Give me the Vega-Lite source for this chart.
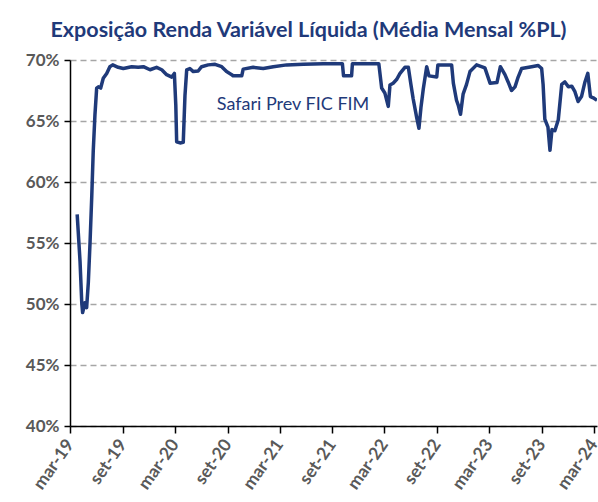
{
  "$schema": "https://vega.github.io/schema/vega-lite/v6.json",
  "width": 527,
  "height": 366,
  "autosize": {"type": "none"},
  "padding": {"left": 70, "top": 60, "right": 1, "bottom": 76},
  "background": "white",
  "title": {
    "text": "Exposição Renda Variável Líquida (Média Mensal %PL)",
    "font": "Lato",
    "fontSize": 21.5,
    "fontWeight": "bold",
    "color": "#1f3a7a",
    "anchor": "middle",
    "dx": -25,
    "offset": 10
  },
  "config": {"view": {"stroke": null}, "font": "Lato"},
  "layer": [
    {
      "data": {
        "values": [
          {"date": "2019-03-26", "value": 57.35},
          {"date": "2019-04-05", "value": 53.5},
          {"date": "2019-04-11", "value": 50.1},
          {"date": "2019-04-14", "value": 49.3},
          {"date": "2019-04-22", "value": 50.1},
          {"date": "2019-04-28", "value": 49.7},
          {"date": "2019-05-04", "value": 51.8},
          {"date": "2019-05-10", "value": 55.1},
          {"date": "2019-05-16", "value": 58.9},
          {"date": "2019-05-21", "value": 62.5},
          {"date": "2019-05-27", "value": 65.5},
          {"date": "2019-06-02", "value": 67.7},
          {"date": "2019-06-08", "value": 67.8},
          {"date": "2019-06-16", "value": 67.7},
          {"date": "2019-06-25", "value": 68.5},
          {"date": "2019-07-07", "value": 68.9},
          {"date": "2019-07-18", "value": 69.45},
          {"date": "2019-07-28", "value": 69.6},
          {"date": "2019-08-16", "value": 69.4},
          {"date": "2019-09-03", "value": 69.3},
          {"date": "2019-10-02", "value": 69.45},
          {"date": "2019-10-25", "value": 69.4},
          {"date": "2019-11-12", "value": 69.45},
          {"date": "2019-12-05", "value": 69.2},
          {"date": "2019-12-28", "value": 69.4},
          {"date": "2020-01-15", "value": 69.2},
          {"date": "2020-02-01", "value": 68.8},
          {"date": "2020-02-19", "value": 68.6},
          {"date": "2020-02-28", "value": 68.9},
          {"date": "2020-03-04", "value": 66.3},
          {"date": "2020-03-07", "value": 63.3},
          {"date": "2020-03-19", "value": 63.2},
          {"date": "2020-03-30", "value": 63.25},
          {"date": "2020-04-05", "value": 67.1},
          {"date": "2020-04-11", "value": 69.2},
          {"date": "2020-04-22", "value": 69.3},
          {"date": "2020-05-04", "value": 69.05},
          {"date": "2020-05-21", "value": 69.1},
          {"date": "2020-06-02", "value": 69.45},
          {"date": "2020-06-25", "value": 69.6},
          {"date": "2020-07-19", "value": 69.65},
          {"date": "2020-08-11", "value": 69.45},
          {"date": "2020-08-28", "value": 69.05},
          {"date": "2020-09-15", "value": 68.8},
          {"date": "2020-09-20", "value": 68.7},
          {"date": "2020-10-20", "value": 68.7},
          {"date": "2020-10-25", "value": 69.25},
          {"date": "2020-11-29", "value": 69.4},
          {"date": "2021-01-03", "value": 69.3},
          {"date": "2021-02-07", "value": 69.45},
          {"date": "2021-03-26", "value": 69.6},
          {"date": "2021-05-23", "value": 69.65},
          {"date": "2021-07-31", "value": 69.7},
          {"date": "2021-10-06", "value": 69.7},
          {"date": "2021-10-10", "value": 68.7},
          {"date": "2021-11-07", "value": 68.7},
          {"date": "2021-11-10", "value": 69.7},
          {"date": "2022-02-10", "value": 69.7},
          {"date": "2022-02-20", "value": 67.7},
          {"date": "2022-03-03", "value": 67.3},
          {"date": "2022-03-15", "value": 66.2},
          {"date": "2022-03-21", "value": 67.95},
          {"date": "2022-04-01", "value": 68.1},
          {"date": "2022-04-13", "value": 68.4},
          {"date": "2022-04-25", "value": 68.9},
          {"date": "2022-05-12", "value": 69.4},
          {"date": "2022-05-24", "value": 69.4},
          {"date": "2022-06-02", "value": 68.0},
          {"date": "2022-06-10", "value": 66.8},
          {"date": "2022-06-22", "value": 65.3},
          {"date": "2022-06-30", "value": 64.4},
          {"date": "2022-07-07", "value": 66.1},
          {"date": "2022-07-15", "value": 67.6},
          {"date": "2022-07-27", "value": 69.45},
          {"date": "2022-08-04", "value": 68.7},
          {"date": "2022-08-31", "value": 68.6},
          {"date": "2022-09-04", "value": 69.6},
          {"date": "2022-10-22", "value": 69.6},
          {"date": "2022-10-28", "value": 68.1},
          {"date": "2022-11-08", "value": 66.7},
          {"date": "2022-11-14", "value": 66.3},
          {"date": "2022-11-22", "value": 65.55},
          {"date": "2022-12-01", "value": 67.2},
          {"date": "2022-12-13", "value": 68.0},
          {"date": "2022-12-25", "value": 69.05},
          {"date": "2023-01-17", "value": 69.6},
          {"date": "2023-02-15", "value": 69.35},
          {"date": "2023-03-05", "value": 68.1},
          {"date": "2023-03-29", "value": 68.15},
          {"date": "2023-04-10", "value": 69.45},
          {"date": "2023-04-26", "value": 68.8},
          {"date": "2023-05-07", "value": 68.2},
          {"date": "2023-05-19", "value": 67.5},
          {"date": "2023-05-31", "value": 67.8},
          {"date": "2023-06-11", "value": 68.6},
          {"date": "2023-06-23", "value": 69.3},
          {"date": "2023-07-28", "value": 69.45},
          {"date": "2023-08-20", "value": 69.55},
          {"date": "2023-09-01", "value": 69.3},
          {"date": "2023-09-06", "value": 68.0},
          {"date": "2023-09-12", "value": 65.15},
          {"date": "2023-09-23", "value": 64.5},
          {"date": "2023-09-30", "value": 62.6},
          {"date": "2023-10-07", "value": 64.3},
          {"date": "2023-10-17", "value": 64.2},
          {"date": "2023-10-29", "value": 65.1},
          {"date": "2023-11-10", "value": 68.0},
          {"date": "2023-11-21", "value": 68.2},
          {"date": "2023-12-03", "value": 67.8},
          {"date": "2023-12-15", "value": 67.85},
          {"date": "2023-12-26", "value": 67.4},
          {"date": "2024-01-06", "value": 66.6},
          {"date": "2024-01-18", "value": 67.0},
          {"date": "2024-01-30", "value": 68.2},
          {"date": "2024-02-09", "value": 68.9},
          {"date": "2024-02-18", "value": 67.0},
          {"date": "2024-02-28", "value": 66.9},
          {"date": "2024-03-12", "value": 66.7}
        ]
      },
      "mark": {"type": "line", "color": "#1f3a7a", "strokeWidth": 3.5, "strokeJoin": "round", "clip": true},
      "encoding": {
        "x": {
          "field": "date",
          "type": "temporal",
          "scale": {
            "type": "utc",
            "domain": [
              {"year": 2019, "month": 3, "date": 1, "utc": true},
              {"year": 2024, "month": 3, "date": 12, "utc": true}
            ]
          },
          "axis": {
            "title": null,
            "grid": false,
            "values": [
              {"year": 2019, "month": 3, "date": 1, "utc": true},
              {"year": 2019, "month": 9, "date": 1, "utc": true},
              {"year": 2020, "month": 3, "date": 1, "utc": true},
              {"year": 2020, "month": 9, "date": 1, "utc": true},
              {"year": 2021, "month": 3, "date": 1, "utc": true},
              {"year": 2021, "month": 9, "date": 1, "utc": true},
              {"year": 2022, "month": 3, "date": 1, "utc": true},
              {"year": 2022, "month": 9, "date": 1, "utc": true},
              {"year": 2023, "month": 3, "date": 1, "utc": true},
              {"year": 2023, "month": 9, "date": 1, "utc": true},
              {"year": 2024, "month": 3, "date": 1, "utc": true}
            ],
            "labelExpr": "(utcmonth(datum.value) == 2 ? 'mar-' : 'set-') + utcFormat(datum.value, '%y')",
            "labelAngle": -55,
            "labelAlign": "right",
            "labelBaseline": "middle",
            "labelFont": "Lato",
            "labelFontSize": 17.5,
            "labelFontWeight": "bold",
            "labelColor": "#595959",
            "labelPadding": 8,
            "labelOverlap": false,
            "labelFlush": false,
            "domainColor": "#000000",
            "domainWidth": 1.5,
            "tickColor": "#000000",
            "tickWidth": 1.5,
            "tickSize": 7
          }
        },
        "y": {
          "field": "value",
          "type": "quantitative",
          "scale": {"domain": [40, 70], "nice": false, "zero": false},
          "axis": {
            "title": null,
            "values": [40, 45, 50, 55, 60, 65, 70],
            "labelExpr": "datum.value + '%'",
            "labelFont": "Lato",
            "labelFontSize": 17,
            "labelFontWeight": "bold",
            "labelColor": "#595959",
            "labelPadding": 5,
            "domainColor": "#000000",
            "domainWidth": 1.5,
            "tickColor": "#000000",
            "tickWidth": 1.5,
            "tickSize": 6,
            "grid": true,
            "gridColor": "#a6a6a6",
            "gridDash": [6, 4],
            "gridWidth": 1.5
          }
        }
      }
    },
    {
      "data": {"values": [{"date": "2021-04-17", "value": 66.3, "label": "Safari Prev FIC FIM"}]},
      "mark": {"type": "text", "font": "Lato", "fontSize": 18, "color": "#1f3a7a", "align": "center", "baseline": "middle"},
      "encoding": {
        "x": {"field": "date", "type": "temporal"},
        "y": {"field": "value", "type": "quantitative"},
        "text": {"field": "label"}
      }
    }
  ]
}
